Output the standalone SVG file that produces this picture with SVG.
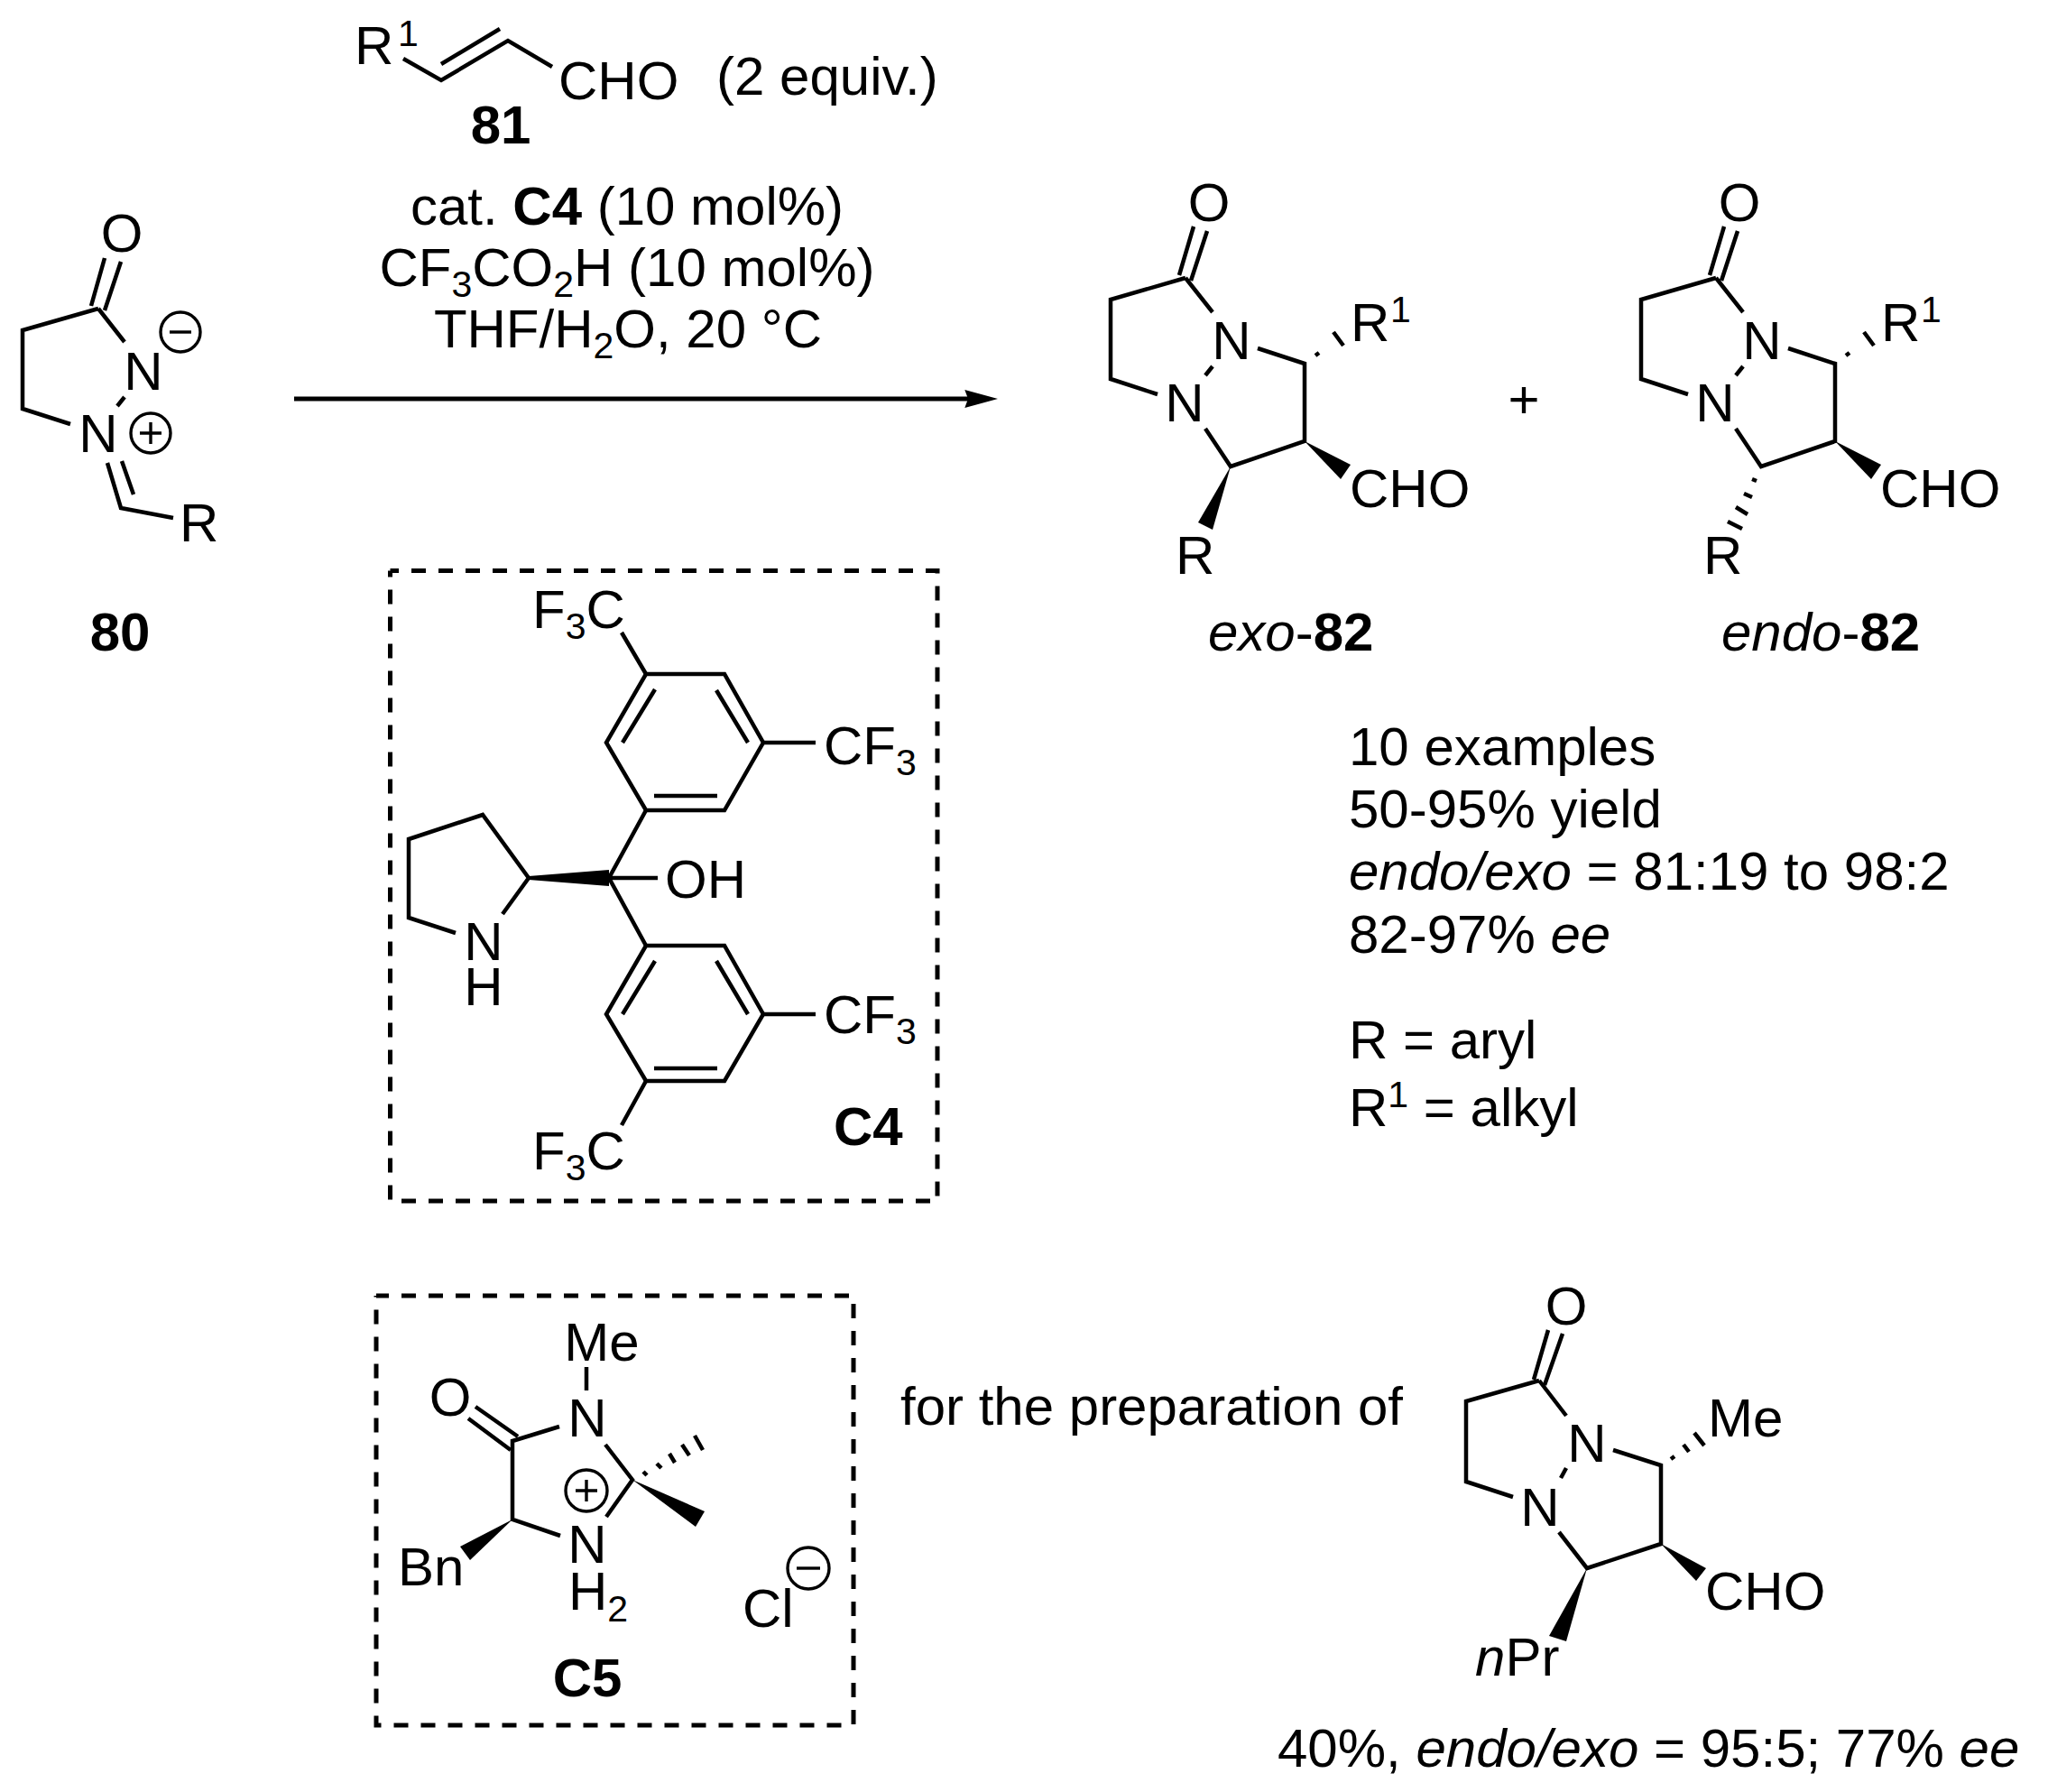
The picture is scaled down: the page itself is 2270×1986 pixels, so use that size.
<svg xmlns="http://www.w3.org/2000/svg" width="2270" height="1986" viewBox="0 0 2270 1986">
<style>
text{font-family:"Liberation Sans",Arial,sans-serif;font-size:60px;fill:#000}
.m{text-anchor:middle}
.s{font-size:41px}
.bd{font-weight:bold}
.i{font-style:italic}
.b{fill:none;stroke:#000;stroke-width:4.5;stroke-linejoin:miter}
.h{fill:none;stroke:#000;stroke-width:4.5}
.c{fill:none;stroke:#000;stroke-width:3.4}
.w{fill:#000;stroke:none}
.d{fill:none;stroke:#000;stroke-width:5;stroke-dasharray:16 14}
</style>
<defs>
<marker id="ah" markerUnits="userSpaceOnUse" markerWidth="38" markerHeight="22" refX="3.7" refY="10" orient="auto">
<path d="M0 0L36.7 10L0 20L3.7 10Z" fill="#000"/>
</marker>
</defs>
<rect width="2270" height="1986" fill="#fff"/>

<g id="connectors">
<line x1="326" y1="442" x2="1073" y2="442" stroke="#000" stroke-width="5" marker-end="url(#ah)"/>
</g>

<g id="node-80">
<path class="b" d="M109 342L25 366V453L78 470M109 342L138 379M138 440L130 450"/>
<path class="b" d="M101 339L116 286M116 344L134 290M119 513L134 563L192 574M135 511L148 548"/>
<text x="135" y="279" class="m">O</text>
<text x="159" y="432" class="m">N</text>
<text x="109" y="501" class="m">N</text>
<text x="199" y="600">R</text>
<circle class="c" cx="200" cy="368" r="22"/><path class="c" d="M188 368H212"/>
<circle class="c" cx="167" cy="480" r="22"/><path class="c" d="M155 480H179M167 468V492"/>
<text x="133" y="721" class="m bd">80</text>
</g>

<g id="node-81">
<text x="393" y="71">R</text><text x="441" y="51" class="s">1</text>
<path class="b" d="M447 65L489 89L563 45L612 74M489 71L554 32"/>
<text x="619" y="110">CHO</text>
<text x="794" y="105">(2 equiv.)</text>
<text x="555" y="159" class="m bd">81</text>
</g>

<g id="conditions">
<text x="695" y="249" class="m">cat. <tspan class="bd">C4</tspan> (10 mol%)</text>
<text x="695" y="317" class="m">CF<tspan class="s" dy="12">3</tspan><tspan dy="-12">CO</tspan><tspan class="s" dy="12">2</tspan><tspan dy="-12">H (10 mol%)</tspan></text>
<text x="696" y="385" class="m">THF/H<tspan class="s" dy="12">2</tspan><tspan dy="-12">O, 20 °C</tspan></text>
</g>

<g id="node-exo-82">
<path class="b" d="M1307 305L1323 251M1320 311L1338 256"/>
<path class="b" d="M1314 308L1231 332V420L1283 437M1314 308L1344 346M1344 406L1336 416"/>
<path class="b" d="M1394 386L1446 403V489L1364 517L1336 475"/>
<path class="w" d="M1446 489L1497 515L1486 531Z"/>
<path class="w" d="M1364 517L1344 587L1328 579Z"/>
<path class="h" d="M1458 394L1462 391M1478 368L1489 383"/>
<text x="1340" y="245" class="m">O</text>
<text x="1365" y="398" class="m">N</text>
<text x="1313" y="467" class="m">N</text>
<text x="1497" y="378">R</text><text x="1541" y="357" class="s">1</text>
<text x="1496" y="562">CHO</text>
<text x="1303" y="636">R</text>
<text x="1339" y="721"><tspan class="i">exo</tspan>-<tspan class="bd">82</tspan></text>
</g>

<text id="plus" x="1689" y="463" class="m">+</text>

<g id="node-endo-82">
<path class="b" d="M1895 305L1911 251M1908 311L1926 256"/>
<path class="b" d="M1902 308L1819 332V420L1871 437M1902 308L1932 346M1932 406L1924 416"/>
<path class="b" d="M1982 386L2034 403V489L1952 517L1924 475"/>
<path class="w" d="M2034 489L2085 515L2074 531Z"/>
<path class="h" d="M2046 394L2050 391M2066 368L2077 383"/>
<path class="h" d="M1942 531L1947 533M1933 547L1942 551M1924 562L1937 570M1915 578L1931 586"/>
<text x="1928" y="245" class="m">O</text>
<text x="1953" y="398" class="m">N</text>
<text x="1901" y="467" class="m">N</text>
<text x="2085" y="378">R</text><text x="2129" y="357" class="s">1</text>
<text x="2084" y="562">CHO</text>
<text x="1888" y="636">R</text>
<text x="1908" y="721"><tspan class="i">endo</tspan>-<tspan class="bd">82</tspan></text>
</g>

<g id="results">
<text x="1495" y="848">10 examples</text>
<text x="1495" y="917">50-95% yield</text>
<text x="1495" y="986"><tspan class="i">endo</tspan><tspan class="i">/</tspan><tspan class="i">exo</tspan> = 81:19 to 98:2</text>
<text x="1495" y="1056">82-97% <tspan class="i">ee</tspan></text>
<text x="1495" y="1173">R = aryl</text>
<text x="1495" y="1248">R<tspan class="s" dy="-21">1</tspan><tspan dy="21"> = alkyl</tspan></text>
</g>

<g id="node-C4">
<path class="d" stroke-dashoffset="6.5" d="M432.5 632.5H1039V1331"/>
<path class="d" stroke-dashoffset="9" d="M432.5 632.5V1331H1039"/>
<path class="b" d="M716 747H803L846 823L803 898H716L672 823ZM726 764L690 823M794 765L829 823M725 882H795"/>
<path class="b" d="M716 1048H803L846 1124L803 1198H716L672 1124ZM726 1065L690 1124M794 1065L829 1124M725 1184H795"/>
<path class="b" d="M716 747L689 701M846 823H904M846 1124H904M716 1198L689 1247"/>
<path class="b" d="M716 898L675 973L716 1048M675 973H729"/>
<path class="w" d="M586 971L675 964V982L586 975Z"/>
<path class="b" d="M586 973L535 903L453 930V1017L505 1034M557 1013L586 973"/>
<text x="590" y="696">F<tspan class="s" dy="12">3</tspan><tspan dy="-12">C</tspan></text>
<text x="913" y="847">CF<tspan class="s" dy="12">3</tspan></text>
<text x="737" y="995">OH</text>
<text x="536" y="1064" class="m">N</text>
<text x="536" y="1114" class="m">H</text>
<text x="913" y="1145">CF<tspan class="s" dy="12">3</tspan></text>
<text x="590" y="1296">F<tspan class="s" dy="12">3</tspan><tspan dy="-12">C</tspan></text>
<text x="924" y="1269" class="bd">C4</text>
</g>

<g id="node-C5">
<path class="d" stroke-dashoffset="2" d="M417 1436H946V1912"/>
<path class="d" stroke-dashoffset="14.5" d="M417 1436V1912H946"/>
<path class="b" d="M650 1515V1541"/>
<path class="b" d="M527 1559L574 1592M519 1572L566 1607"/>
<path class="b" d="M620 1581L568 1597V1684L621 1702"/>
<path class="b" d="M671 1601L701 1640L672 1681"/>
<path class="w" d="M701 1640L781 1675L771 1692Z"/>
<path class="w" d="M568 1684L510 1714L521 1729Z"/>
<path class="h" d="M713 1631L717 1635M728 1622L733 1627M742 1611L748 1621M756 1601L764 1613M770 1591L779 1607"/>
<circle class="c" cx="650" cy="1652" r="23"/><path class="c" d="M638 1652H662M650 1640V1664"/>
<text x="667" y="1508" class="m">Me</text>
<text x="651" y="1592" class="m">N</text>
<text x="499" y="1569" class="m">O</text>
<text x="651" y="1732" class="m">N</text>
<text x="630" y="1784">H<tspan class="s" dy="13">2</tspan></text>
<text x="441" y="1757">Bn</text>
<text x="823" y="1803">Cl</text>
<circle class="c" cx="896" cy="1738" r="23"/><path class="c" d="M883 1738H909"/>
<text x="651" y="1880" class="m bd">C5</text>
</g>

<text id="label-for" x="998" y="1579">for the preparation of</text>

<g id="node-product">
<path class="b" d="M1700 1529L1716 1474M1712 1535L1732 1478"/>
<path class="b" d="M1706 1530L1625 1553V1642L1677 1659M1706 1530L1736 1569M1736 1627L1730 1638"/>
<path class="b" d="M1788 1607L1841 1624V1711L1759 1738L1728 1698"/>
<path class="w" d="M1841 1711L1891 1738L1880 1752Z"/>
<path class="w" d="M1759 1738L1736 1819L1717 1813Z"/>
<path class="h" d="M1852 1617L1856 1614M1866 1601L1872 1609M1878 1588L1889 1602"/>
<text x="1736" y="1468" class="m">O</text>
<text x="1759" y="1620" class="m">N</text>
<text x="1707" y="1691" class="m">N</text>
<text x="1893" y="1592">Me</text>
<text x="1890" y="1784">CHO</text>
<text x="1635" y="1857"><tspan class="i">n</tspan>Pr</text>
<text x="1416" y="1958">40%, <tspan class="i">endo</tspan><tspan class="i">/</tspan><tspan class="i">exo</tspan> = 95:5; 77% <tspan class="i">ee</tspan></text>
</g>
</svg>
